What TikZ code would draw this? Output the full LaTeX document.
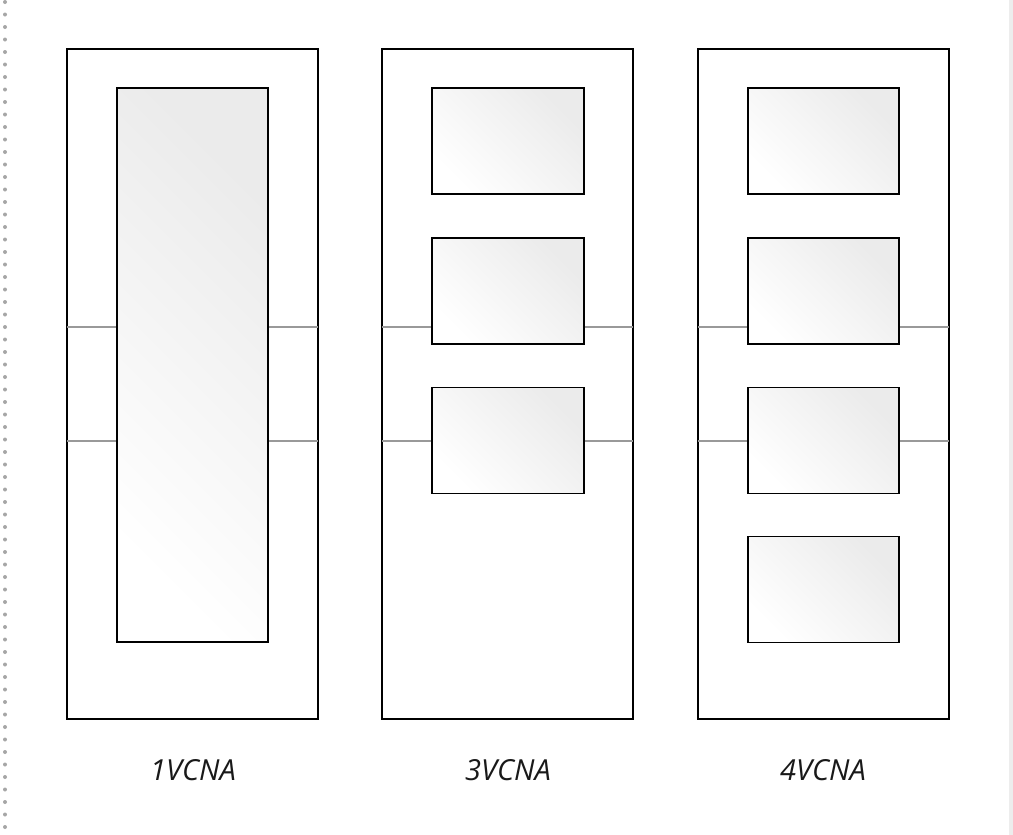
\documentclass[tikz,border=0pt]{standalone}
\usepackage{fontspec}
\setmainfont{Open Sans}
\begin{document}
\begin{tikzpicture}[x=1pt,y=-1pt,
  outerbox/.style={draw=black,line width=1.6pt,fill=white},
  pane/.style={draw=black,line width=1.6pt,shading=axis,top color=black!8,bottom color=white,shading angle=-45},
  rail/.style={draw=black!40,line width=1.4pt},
  lbl/.style={font=\itshape\fontsize{29}{33}\selectfont,text=black!90}]
\useasboundingbox (0,0) rectangle (1013,835);
\fill[white] (0,0) rectangle (1013,835);
\fill[black!7] (1009,0) rectangle (1013,835);
\draw[black!35,line width=4pt,line cap=round,dash pattern=on 0pt off 12.5pt] (5,2) -- (5,835);
% door 1
\draw[outerbox] (67,49) rectangle (318,719);
\coordinate (a1) at (67,327); \coordinate (a2) at (318,327);
\coordinate (b1) at (67,441); \coordinate (b2) at (318,441);
\draw[rail] (a1) -- (a2); \draw[rail] (b1) -- (b2);
\node[pane,minimum width=151pt,minimum height=554pt,inner sep=0pt] (p1) at (192.5,365) {};
\node[lbl] (l1) at (193,770) {1VCNA};
% door 2
\draw[outerbox] (382,49) rectangle (633,719);
\coordinate (c1) at (382,327); \coordinate (c2) at (633,327);
\coordinate (d1) at (382,441); \coordinate (d2) at (633,441);
\draw[rail] (c1) -- (c2); \draw[rail] (d1) -- (d2);
\foreach \y/\n in {141/q1,291/q2,440.5/q3}
  \node[pane,minimum width=152pt,minimum height=106pt,inner sep=0pt] (\n) at (508,\y) {};
\node[lbl] (l2) at (508,770) {3VCNA};
% door 3
\draw[outerbox] (698,49) rectangle (949,719);
\coordinate (e1) at (698,327); \coordinate (e2) at (949,327);
\coordinate (f1) at (698,441); \coordinate (f2) at (949,441);
\draw[rail] (e1) -- (e2); \draw[rail] (f1) -- (f2);
\foreach \y/\n in {141/r1,291/r2,440.5/r3,589.5/r4}
  \node[pane,minimum width=151pt,minimum height=106pt,inner sep=0pt] (\n) at (823.5,\y) {};
\node[lbl] (l3) at (823,770) {4VCNA};
\end{tikzpicture}
\end{document}
